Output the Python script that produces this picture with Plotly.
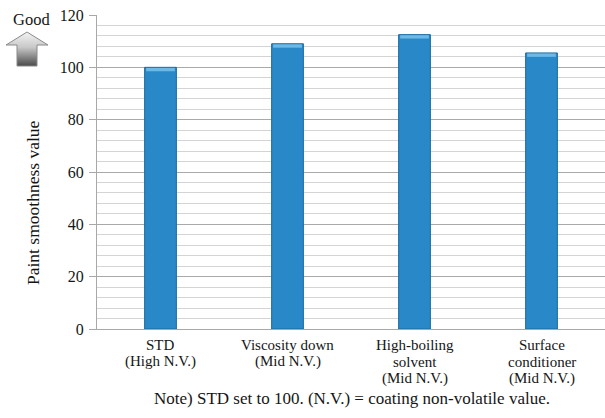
import base64
import plotly.graph_objects as go

# Paint smoothness by formulation (STD normalised to 100)
categories = [
    "STD<br>(High N.V.)",
    "Viscosity down<br>(Mid N.V.)",
    "High-boiling<br>solvent<br>(Mid N.V.)",
    "Surface<br>conditioner<br>(Mid N.V.)",
]
smoothness = [100, 109, 112.5, 105.5]
y_ticks = [0, 20, 40, 60, 80, 100, 120]

FONT = "'Liberation Serif', 'DejaVu Serif', 'Times New Roman', Times, serif"
TXT = "#151515"
W, H = 605, 418
L, R, T, B = 97, 0, 15, 89
PH = H - T - B
PW = W - L - R
BAR_W = 0.25


def px_x(x):
    return (x - L) / PW


def px_y(y):
    return (H - B - y) / PH


fig = go.Figure()
fig.add_trace(go.Bar(
    x=categories,
    y=smoothness,
    marker=dict(color="#2888c8", line=dict(color="#1b6aa0", width=1)),
    width=BAR_W,
    hoverinfo="y",
))

# light bevel along the top of every bar
for i, v in enumerate(smoothness):
    fig.add_shape(
        type="rect", xref="x", yref="y",
        x0=i - BAR_W / 2 + 0.012, x1=i + BAR_W / 2 - 0.012,
        y0=v - 1.5, y1=v - 0.2,
        fillcolor="#6cb8e6", line=dict(width=0), layer="above",
    )

# category labels, one line per annotation for tight line spacing
for cat in categories:
    for i, line in enumerate(cat.split("<br>")):
        fig.add_annotation(
            text=line, x=cat, xref="x", yref="paper", y=px_y(345 + 16.8 * i),
            showarrow=False, xanchor="center", yanchor="middle",
            font=dict(family=FONT, size=15, color=TXT),
        )

# up arrow marking the "good" direction
arrow_svg = """<svg xmlns='http://www.w3.org/2000/svg' width='44' height='36' viewBox='0 0 44 36'>
<defs><linearGradient id='g' x1='0' y1='0' x2='0' y2='1'>
<stop offset='0' stop-color='#f4f4f4'/><stop offset='0.45' stop-color='#c8c8c8'/>
<stop offset='1' stop-color='#4a4a4a'/></linearGradient></defs>
<path d='M22 1 L43 14 L32 14 L32 35 L12 35 L12 14 L1 14 Z' fill='url(#g)' stroke='#8a8a8a' stroke-width='1'/>
</svg>"""
arrow_uri = "data:image/svg+xml;base64," + base64.b64encode(arrow_svg.encode()).decode()

fig.add_layout_image(dict(
    source=arrow_uri, xref="paper", yref="paper",
    x=px_x(5), y=px_y(31), sizex=44 / PW, sizey=36 / PH,
    xanchor="left", yanchor="top", sizing="stretch", layer="above",
))

fig.add_annotation(
    text="Good", xref="paper", yref="paper", x=px_x(31), y=px_y(19),
    showarrow=False, xanchor="center", yanchor="middle",
    font=dict(family=FONT, size=16.5, color=TXT),
)
fig.add_annotation(
    text="Paint smoothness value", xref="paper", yref="paper",
    x=px_x(33), y=px_y(203), textangle=-90,
    showarrow=False, xanchor="center", yanchor="middle",
    font=dict(family=FONT, size=17.5, color=TXT),
)
fig.add_annotation(
    text="Note) STD set to 100. (N.V.) = coating non-volatile value.",
    xref="paper", yref="paper", x=px_x(352), y=px_y(398),
    showarrow=False, xanchor="center", yanchor="middle",
    font=dict(family=FONT, size=17, color=TXT),
)

fig.update_layout(
    width=W, height=H,
    margin=dict(l=L, r=R, t=T, b=B),
    paper_bgcolor="white", plot_bgcolor="white",
    showlegend=False,
    bargap=0.75,
    font=dict(family=FONT, size=16, color=TXT),
    xaxis=dict(
        showgrid=False, showline=True, linecolor="#a8a8a8", linewidth=1,
        ticks="", showticklabels=False,
    ),
    yaxis=dict(
        range=[0, 120], tickvals=y_ticks, ticktext=[str(v) for v in y_ticks],
        showgrid=True, gridcolor="#a9a9a9", gridwidth=1,
        minor=dict(dtick=4, showgrid=True, gridcolor="#d4d4d4", gridwidth=1),
        showline=True, linecolor="#a8a8a8", linewidth=1,
        ticks="outside", ticklen=7, tickcolor="#a8a8a8",
        tickfont=dict(family=FONT, size=16, color=TXT),
        ticklabelstandoff=2,
        zeroline=False,
    ),
)

fig.write_html("out.html")
